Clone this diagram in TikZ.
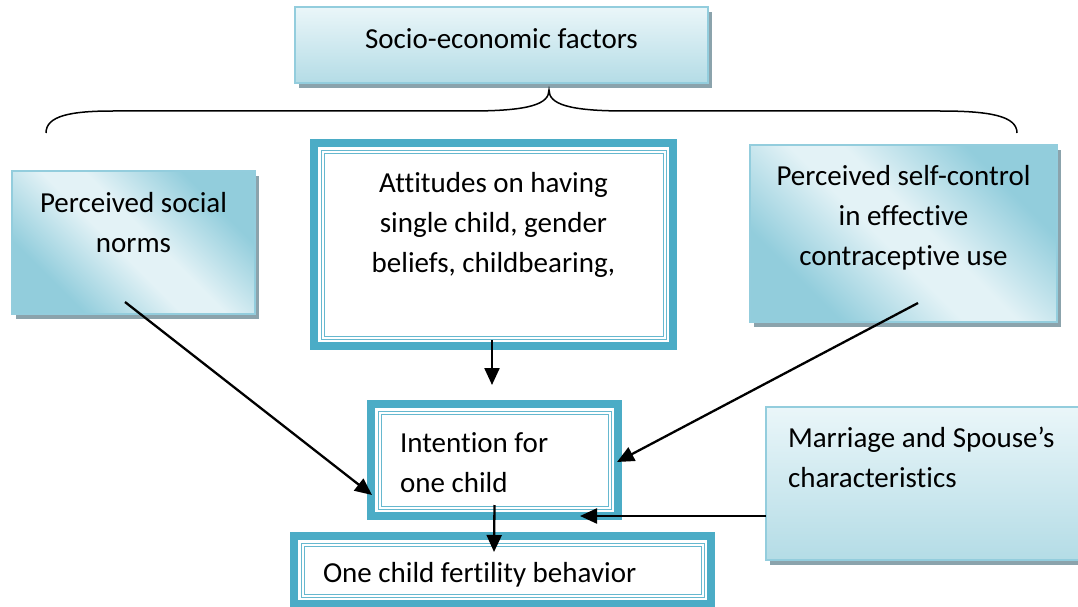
\documentclass[tikz,border=0pt]{standalone}
\usepackage{fontspec}
\setmainfont{Carlito}[Ligatures=NoCommon]
\usetikzlibrary{positioning, arrows.meta, calc, shadows}

\definecolor{framecol}{HTML}{4BACC6}
\definecolor{edgecol}{HTML}{93CDDD}
\definecolor{toplight}{HTML}{EAF6F9}
\definecolor{botdark}{HTML}{B4DCE6}
\definecolor{sidedark}{HTML}{92CDDC}
\definecolor{sidelight}{HTML}{E3F2F6}
\definecolor{shadowcol}{HTML}{8BA3AC}

% diagonal shading of the side boxes
\pgfdeclarehorizontalshading{sidegrad}{100bp}{color(0bp)=(sidedark); color(28bp)=(sidedark); color(46bp)=(sidelight); color(54bp)=(sidelight); color(72bp)=(sidedark); color(100bp)=(sidedark)}

\tikzset{
  base/.style={inner sep=0pt, outer sep=0pt},
  shadowed/.style={drop shadow={shadow xshift=4pt, shadow yshift=-5pt, fill=shadowcol, opacity=1}},
  softbox/.style={base, shadowed, draw=edgecol, line width=1.5pt, top color=toplight, bottom color=botdark},
  sidebox/.style={base, shadowed, draw=edgecol, line width=1.5pt, shading=sidegrad, shading angle=45},
  framebox/.style={base, draw=framecol, line width=8pt, fill=white,
    path picture={\draw[framecol!85, line width=1pt, double=white, double distance=2pt]
      ([shift={(8.5pt,-8.5pt)}]path picture bounding box.north west) rectangle
      ([shift={(-8.5pt,8.5pt)}]path picture bounding box.south east);}},
  label/.style={base, align=center},
  conn/.style={line width=2.3pt, -{Triangle[length=17pt, width=15pt]}},
  brace/.style={line width=1.5pt}
}

\begin{document}
\begin{tikzpicture}[x=1pt, y=-1pt, font=\fontsize{29}{40}\selectfont]
    % page frame
    \useasboundingbox (0,0) rectangle (1078,607);
    \clip (0,0) rectangle (1078,607);

    % top factor and its brace
    \node[softbox, minimum width=413pt, minimum height=76pt, text depth=12pt] (socio) at (501.5,45) {Socio-economic factors};
    \draw[brace] (46,133) .. controls (46,116) and (70,111) .. (113,111) -- (470,111)
        .. controls (530,111) and (549,104) .. (549,90)
        .. controls (549,104) and (568,111) .. (626,111) -- (940,111)
        .. controls (990,111) and (1017,116) .. (1017,133);

    % three determinants
    \node[sidebox, minimum width=243pt, minimum height=143pt] (norms) at (133.5,242.5) {};
    \node[label, below=21pt of norms.north] (normstext) {Perceived social\\norms};

    \node[framebox, minimum width=359pt, minimum height=203pt] (attitudes) at (493.5,244.5) {};
    \node[label, below=29pt of attitudes.north] (attitudestext) {Attitudes on having\\single child, gender\\beliefs, childbearing,};

    \node[sidebox, minimum width=307pt, minimum height=177pt] (selfctrl) at (903.5,233.5) {};
    \node[label, below=20pt of selfctrl.north] (selfctrltext) {Perceived self-control\\in effective\\contraceptive use};

    % intention and behaviour
    \node[framebox, minimum width=247pt, minimum height=112pt] (intention) at (494.5,460) {};
    \node[label, align=left, below right=29pt and 29pt of intention.north west] (intentiontext) {Intention for\\one child};

    \node[framebox, minimum width=417pt, minimum height=68pt] (fertility) at (502.5,570) {};
    \node[label, align=left, below right=26pt and 29pt of fertility.north west] (fertilitytext) {One child fertility behavior};

    \node[softbox, minimum width=334pt, minimum height=153pt] (marriage) at (933,483.5) {};
    \node[label, align=left, below right=20pt and 22pt of marriage.north west] (marriagetext) {Marriage and Spouse’s\\characteristics};

    % arrows
    \draw[conn] ($(norms.south)+(-8.5,-12)$) -- ($(intention.south west)+(1,-21)$);
    \draw[conn] ($(selfctrl.south)+(14.5,-19)$) -- ($(intention.east)+(-1,2)$);
    \draw[conn] ($(attitudes.south)+(-1.5,-6)$) -- ($(intention.north)+(-2.5,-19)$);
    \draw[conn] ($(marriage.south west)+(0,-44)$) -- ($(intention.south east)+(-38,0)$);
    \draw[conn] ($(intention.south)+(0,-11)$) -- ($(fertility.north)+(-8.5,16)$);
\end{tikzpicture}
\end{document}
